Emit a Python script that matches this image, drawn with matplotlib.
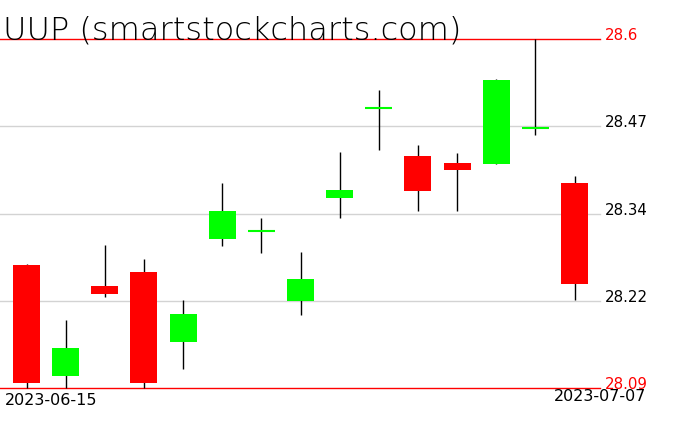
import matplotlib
matplotlib.use("Agg")
import matplotlib.pyplot as plt
import numpy as np

dates = ["2023-06-15", "2023-06-16", "2023-06-20", "2023-06-21", "2023-06-22",
         "2023-06-23", "2023-06-26", "2023-06-27", "2023-06-28", "2023-06-29",
         "2023-06-30", "2023-07-03", "2023-07-05", "2023-07-06", "2023-07-07"]
opens  = [28.270, 28.108, 28.239, 28.260, 28.157, 28.308, 28.319, 28.217, 28.368, 28.499,
          28.429, 28.419, 28.418, 28.470, 28.390]
highs  = [28.271, 28.189, 28.299, 28.279, 28.219, 28.390, 28.339, 28.289, 28.435, 28.526,
          28.445, 28.433, 28.542, 28.600, 28.400]
lows   = [28.090, 28.090, 28.223, 28.090, 28.118, 28.298, 28.288, 28.197, 28.339, 28.438,
          28.348, 28.348, 28.417, 28.459, 28.218]
closes = [28.097, 28.148, 28.228, 28.098, 28.198, 28.349, 28.319, 28.249, 28.379, 28.499,
          28.378, 28.409, 28.540, 28.470, 28.242]
title = "UUP (smartstockcharts.com)"

ymin, ymax = 28.09, 28.6
grid_vals = [ymin + k * (ymax - ymin) / 4 for k in range(5)]
grid_labels = ["28.09", "28.22", "28.34", "28.47", "28.6"]

W, H = 676, 431
fig = plt.figure(figsize=(W / 100, H / 100), dpi=100)
ax = fig.add_axes([0, (H - 389) / H, 600 / W, (389 - 40) / H])
ax.set_xlim(-0.677, 14.65)
ax.set_ylim(ymin, ymax)
ax.axis("off")

green, red = "#00ff00", "#ff0000"
x = np.arange(len(dates))
bw = 0.69

# horizontal level lines with labels
for v, lab in zip(grid_vals, grid_labels):
    edge = lab in ("28.09", "28.6")
    ax.axhline(v, color=red if edge else "#d3d3d3", lw=1.0, zorder=1, clip_on=False)
    ax.text(14.78, v, lab, color=red if edge else "black", fontsize=10.8,
            ha="left", va="baseline", clip_on=False)

for i in x:
    o, h, l, c = opens[i], highs[i], lows[i], closes[i]
    ax.vlines(i, l, h, color="black", lw=1.0, zorder=2, clip_on=False)
    if abs(c - o) < 1e-9:
        ax.hlines(o, i - bw / 2, i + bw / 2, color=green, lw=1.5, zorder=3)
    else:
        col = green if c > o else red
        ax.bar(i, abs(c - o), bottom=min(o, c), width=bw, color=col,
               edgecolor="none", zorder=3)

fig.text(5 / W, 1 - 405.5 / H, dates[0], fontsize=11.5, ha="left", va="baseline")
fig.text(646 / W, 1 - 401 / H, dates[-1], fontsize=11.5, ha="right", va="baseline")
fig.text(3 / W, 1 - 40 / H, title, fontsize=23, fontweight="light", color="black",
         ha="left", va="baseline")

fig.savefig("out.png", dpi=100)
